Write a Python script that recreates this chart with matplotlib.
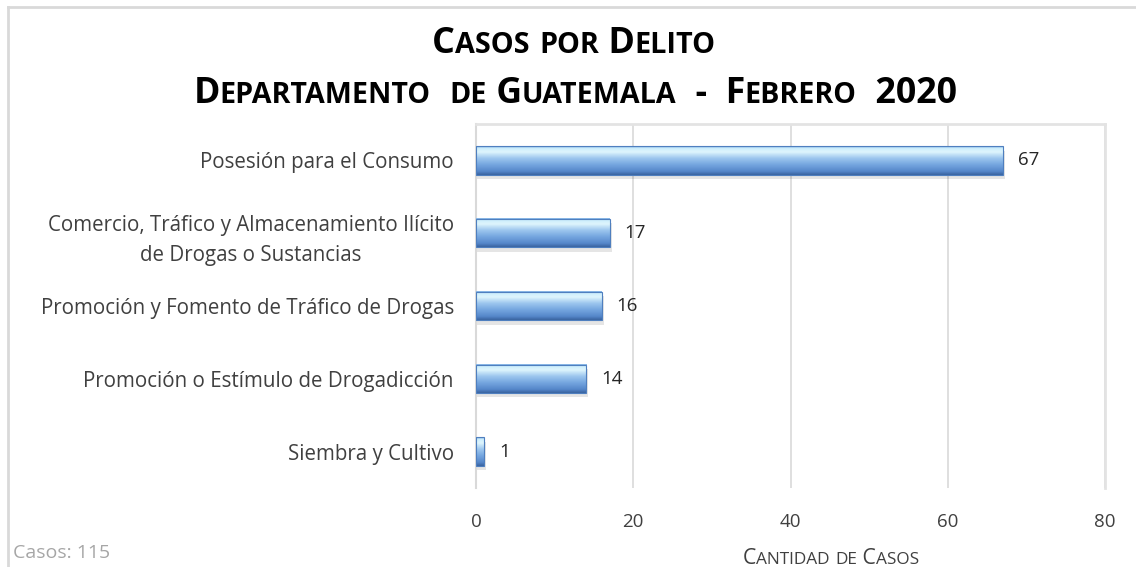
import matplotlib
matplotlib.use("Agg")
import matplotlib.pyplot as plt
import numpy as np
from matplotlib.colors import LinearSegmentedColormap
from matplotlib.patches import Rectangle
from matplotlib.lines import Line2D

categories = [
    "Posesión para el Consumo",
    "Comercio, Tráfico y Almacenamiento Ilícito\nde Drogas o Sustancias",
    "Promoción y Fomento de Tráfico de Drogas",
    "Promoción o Estímulo de Drogadicción",
    "Siembra y Cultivo",
]
values = [67, 17, 16, 14, 1]
x_ticks = [0, 20, 40, 60, 80]
title_line1 = "Casos por Delito"
title_line2 = "Departamento  de Guatemala  -  Febrero  2020"
x_label = "Cantidad de Casos"
footer = "Casos: 115"

FONT = "Open Sans"
W, H = 1136, 567
fig = plt.figure(figsize=(W / 100, H / 100), dpi=100)
fig.patch.set_facecolor("white")

# outer chart border (only top and left visible in the reference crop)
fig.add_artist(Line2D([8 / W, 8 / W], [0, 1 - 7 / H], transform=fig.transFigure,
                      color="#d9d9d9", linewidth=2))
fig.add_artist(Line2D([8 / W, 1], [1 - 7 / H, 1 - 7 / H], transform=fig.transFigure,
                      color="#d9d9d9", linewidth=2))

left, right, top, bottom = 476, 1105, 124, 488
ax = fig.add_axes([left / W, 1 - bottom / H, (right - left) / W, (bottom - top) / H])
n = len(categories)
ax.set_xticks(x_ticks)
ax.set_xticklabels([str(t) for t in x_ticks], fontsize=13.5, color="#404040", family=FONT)
ax.tick_params(axis="x", length=0, pad=18)
ax.set_yticks(range(n))
ax.set_yticklabels(categories, fontsize=14.8, color="#404040", family=FONT,
                   linespacing=1.6, multialignment="center")
ax.tick_params(axis="y", length=0, pad=16)
ax.grid(axis="x", color="#d9d9d9", linewidth=1.2)
ax.set_axisbelow(True)
for s in ["top", "right"]:
    ax.spines[s].set_color("#e3e3e3")
    ax.spines[s].set_linewidth(2)
ax.spines["bottom"].set_visible(False)
ax.spines["left"].set_color("#d9d9d9")
ax.spines["left"].set_linewidth(1.5)

cmap = LinearSegmentedColormap.from_list("bar", [
    (0.0, "#7fb0e3"), (0.07, "#cdeefc"), (0.2, "#def5fd"),
    (0.42, "#9cc6ee"), (0.65, "#74a5df"), (0.88, "#5587ca"), (1.0, "#3a64a0")])
grad = np.linspace(0, 1, 64).reshape(-1, 1)
bh = 0.39
for i, v in enumerate(values):
    ax.add_patch(Rectangle((0.1, i - bh / 2 + 0.06), v + 0.2, bh, facecolor="#000000",
                           alpha=0.10, edgecolor="none", zorder=2))
    ax.imshow(grad, cmap=cmap, aspect="auto", extent=(0, v, i + bh / 2, i - bh / 2),
              zorder=3, interpolation="bilinear")
    ax.add_patch(Rectangle((0, i - bh / 2), v, bh, fill=False, edgecolor="#4f7fbf",
                           linewidth=0.8, zorder=4))
    ax.text(v + 1.9, i, str(v), va="center", ha="left", fontsize=13.5,
            color="#262626", family=FONT, zorder=5)
ax.set_xlim(0, 80)
ax.set_ylim(n - 0.5, -0.5)


def small_caps(text, cx, baseline, big, small, width, color="black", weight="bold"):
    """Draw small-caps text centred at cx with given baseline (pixels from top)."""
    pieces = []
    for ch in text:
        is_big = ch.isupper() or ch.isdigit() or not ch.isalpha()
        size = big if is_big else small
        s = ch.upper()
        if pieces and pieces[-1][1] == size:
            pieces[-1][0] += s
        else:
            pieces.append([s, size])
    renderer = fig.canvas.get_renderer()
    arts = [fig.text(0, 0, s, fontsize=size, family=FONT, weight=weight, color=color,
                     ha="left", va="baseline") for s, size in pieces]
    widths = [a.get_window_extent(renderer).width for a in arts]
    k = width / sum(widths)
    for a, (s, size) in zip(arts, pieces):
        a.set_fontsize(size * k)
    widths = [a.get_window_extent(renderer).width for a in arts]
    x = cx - sum(widths) / 2
    for a, w in zip(arts, widths):
        a.set_position((x / W, 1 - baseline / H))
        x += w


small_caps(title_line1, 574, 53, 20, 16, 284)
small_caps(title_line2, 575, 103, 20, 16, 766)
small_caps(x_label, 831, 564, 16, 13, 177, color="#404040", weight="normal")
fig.text(13 / W, 1 - 558 / H, footer, fontsize=14, color="#a6a6a6", family=FONT)

fig.savefig("out.png", dpi=100)
